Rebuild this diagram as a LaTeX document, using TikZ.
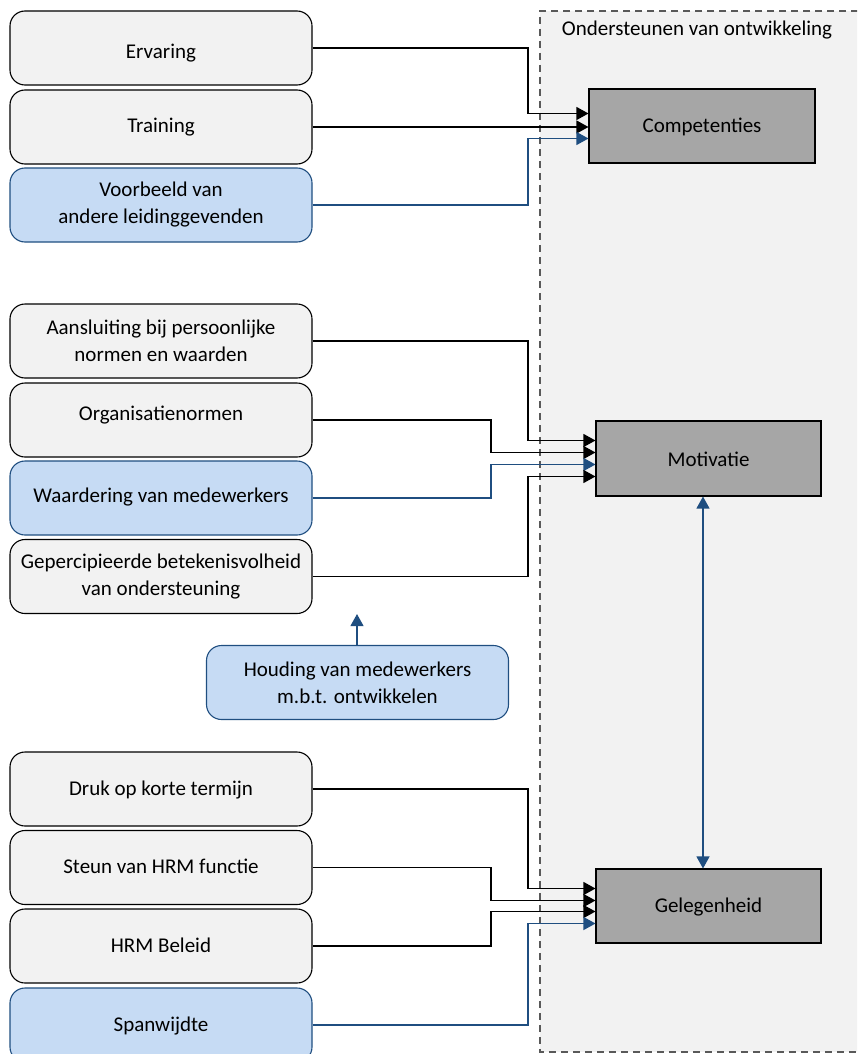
\documentclass[tikz,border=0pt]{standalone}
\usepackage{fontspec}
\setmainfont{Carlito}
\usetikzlibrary{arrows.meta}
\definecolor{boxgray}{HTML}{F2F2F2}
\definecolor{boxblue}{HTML}{C6DBF4}
\definecolor{lineblue}{HTML}{1F4E80}
\definecolor{darkbox}{HTML}{A6A6A6}
\definecolor{dashgray}{HTML}{595959}
\tikzset{
  lbox/.style={draw=black, fill=boxgray, line width=1.1pt, rounded corners=15pt,
    minimum width=302pt, minimum height=74pt, inner sep=0pt, align=center,
    font=\fontsize{21}{27}\selectfont},
  bbox/.style={lbox, draw=lineblue, fill=boxblue},
  rbox/.style={draw=black, fill=darkbox, line width=1.1pt,
    minimum width=226pt, minimum height=74pt, inner sep=0pt, align=center,
    font=\fontsize{21}{27}\selectfont},
  sl/.style={text height=#1, text depth=5pt},
  tip/.tip={Triangle[length=12pt,width=13pt]},
  karr/.style={draw=black, line width=1.2pt, -tip},
  barr/.style={draw=lineblue, line width=1.2pt, -tip},
}
\begin{document}
\begin{tikzpicture}[x=1pt,y=-1pt]
\clip (0,0) rectangle (857,1054);
\useasboundingbox (0,0) rectangle (857,1054);
% container
\fill[boxgray] (540,11) rectangle (870,1052);
\draw[dashgray, line width=1.2pt, dash pattern=on 7pt off 5pt] (870,11) -- (540,11) -- (540,1052) -- (870,1052);
\node[font=\fontsize{21}{27}\selectfont, anchor=center] (title) at (697,30) {Ondersteunen van ontwikkeling};
% helper x coordinates
\coordinate (xa) at (528,0);
\coordinate (xb) at (491,0);
\coordinate (xd) at (703,0);
\coordinate (xh) at (357,0);
% right boxes
\node[rbox, sl=17pt] (comp) at (702,126) {Competenties};
\node[rbox, sl=21.5pt, minimum width=225pt, minimum height=75pt] (mot) at (708.5,458.5) {Motivatie};
\node[rbox, sl=18.5pt, minimum width=225pt] (gel) at (708.5,906) {Gelegenheid};
% left boxes
\node[lbox, sl=26.5pt] (erv) at (161,48) {Ervaring};
\node[lbox, sl=15pt] (tra) at (161,127) {Training};
\node[bbox] (voo) at (161,205) {Voorbeeld van\\andere leidinggevenden};
\node[lbox] (aan) at (161,341) {Aansluiting bij persoonlijke\\normen en waarden};
\node[lbox, sl=6.5pt] (org) at (161,420) {Organisatienormen};
\node[bbox, sl=14pt] (waa) at (161,498) {Waardering van medewerkers};
\node[lbox] (gep) at (161,576.5) {Gepercipieerde betekenisvolheid\\van ondersteuning};
\node[bbox] (hou) at (357.5,682.5) {Houding van medewerkers\\m.b.t. ontwikkelen};
\node[lbox, sl=17.5pt] (dru) at (161,789) {Druk op korte termijn};
\node[lbox, sl=17.5pt] (ste) at (161,867.5) {Steun van HRM functie};
\node[lbox, sl=17.5pt] (hrm) at (161,946) {HRM Beleid};
\node[bbox, sl=17.5pt] (spa) at (161,1025) {Spanwijdte};
% connectors to Competenties
\draw[karr] (erv.east) -- (erv.east -| xa) |- ([yshift=12.5pt]comp.west);
\draw[karr] (tra.east) -- (tra.east -| comp.west);
\draw[barr] (voo.east) -- (voo.east -| xa) |- ([yshift=-12.5pt]comp.west);
% connectors to Motivatie
\draw[karr] (aan.east) -- (aan.east -| xa) |- ([yshift=18pt]mot.west);
\draw[karr] (org.east) -- (org.east -| xb) |- ([yshift=6pt]mot.west);
\draw[barr] (waa.east) -- (waa.east -| xb) |- ([yshift=-6pt]mot.west);
\draw[karr] (gep.east) -- (gep.east -| xa) |- ([yshift=-18pt]mot.west);
% Houding -> Gepercipieerde
\draw[barr] (hou.north -| xh) -- (gep.south -| xh);
% connectors to Gelegenheid
\draw[karr] (dru.east) -- (dru.east -| xa) |- ([yshift=17.5pt]gel.west);
\draw[karr] (ste.east) -- (ste.east -| xb) |- ([yshift=5.5pt]gel.west);
\draw[karr] (hrm.east) -- (hrm.east -| xb) |- ([yshift=-5.5pt]gel.west);
\draw[barr] (spa.east) -- (spa.east -| xa) |- ([yshift=-17.5pt]gel.west);
% Motivatie <-> Gelegenheid
\draw[barr, tip-tip] (mot.south -| xd) -- (gel.north -| xd);
\end{tikzpicture}
\end{document}
